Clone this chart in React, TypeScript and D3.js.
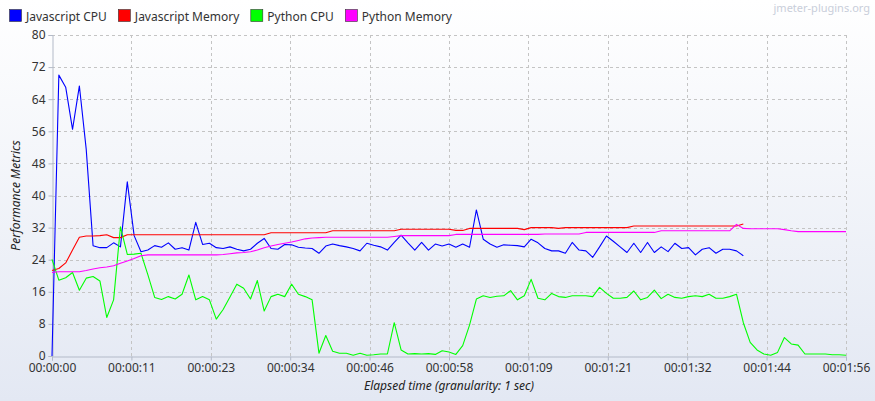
import React, { useRef, useEffect } from "react";
import * as d3 from "d3";

// one sample per second, elapsed seconds = index
const jsCpu = [
  0, 70, 67, 56.5, 67.3, 51.5, 27.5, 27, 27, 28.2,
  27.2, 43.4, 30, 26, 26.4, 27.5, 27.1, 28.2, 26.6, 27,
  26.4, 33.3, 27.8, 28.1, 27, 26.8, 27.2, 26.6, 26.2, 26.6,
  28.1, 29.3, 26.8, 26.6, 27.8, 27.7, 27.1, 26.9, 26.8, 25.6,
  27.4, 27.9, 27.5, 27.2, 26.8, 26.2, 28.1, 27.6, 27.2, 26.4,
  28.3, 30.1, 28.2, 26.4, 28.3, 26.4, 27.9, 27.4, 27.9, 27.1,
  27.9, 27.1, 36.4, 29.1, 27.9, 27.1, 27.7, 27.6, 27.5, 27.2,
  29.1, 28.2, 26.8, 26.2, 26.2, 25.6, 28.3, 26.4, 26.2, 24.6,
  27.2, 29.9, 28.6, 27.2, 25.8, 28.1, 25.8, 28.3, 25.8, 27.2,
  26, 28.1, 26.8, 27, 25.2, 26.6, 27, 25.6, 26.6, 26.6,
  26.2, 25,
];

const jsMemory = [
  21.3, 21.8, 23.2, 26.4, 29.6, 29.9, 29.9, 30, 30.2, 29.5,
  29.5, 30.2, 30.2, 30.2, 30.2, 30.2, 30.2, 30.2, 30.2, 30.2,
  30.2, 30.2, 30.2, 30.2, 30.2, 30.2, 30.2, 30.2, 30.2, 30.2,
  30.2, 30.2, 30.7, 30.7, 30.7, 30.7, 30.7, 30.7, 30.7, 30.7,
  30.7, 31.2, 31.2, 31.2, 31.2, 31.2, 31.2, 31.2, 31.2, 31.2,
  31.2, 31.6, 31.6, 31.6, 31.6, 31.6, 31.6, 31.6, 31.6, 31.3,
  31.3, 31.8, 31.8, 31.8, 31.8, 31.8, 31.8, 31.8, 31.8, 31.5,
  32, 32, 32, 32, 31.8, 32, 32, 32, 32, 32,
  32, 32, 32, 32, 32, 32.4, 32.4, 32.4, 32.4, 32.4,
  32.4, 32.4, 32.4, 32.4, 32.4, 32.4, 32.4, 32.4, 32.4, 32.4,
  32.4, 32.9,
];

const pyCpu = [
  24.1, 18.9, 19.5, 20.8, 16.4, 19.4, 19.8, 18.7, 9.6, 14,
  32.2, 25.3, 25.4, 25.6, 20.3, 14.6, 14.1, 14.8, 14.2, 15.4,
  20.2, 14, 14.8, 14, 9.2, 11.6, 14.7, 17.9, 16.9, 14.2,
  18.8, 11.2, 14.8, 15.4, 14.8, 17.9, 15.4, 14.8, 14, 0.7,
  5.1, 1.2, 0.7, 0.7, 0.2, 0.7, 0.2, 0.3, 0.5, 0.5,
  8.3, 1.5, 0.5, 0.6, 0.5, 0.6, 0.4, 1.3, 1, 0.4,
  2.6, 7.7, 14.2, 15, 14.6, 14.9, 15, 16.3, 14, 15,
  19.1, 14.4, 14, 15.6, 14.8, 14.6, 15, 15, 15, 14.8,
  17.1, 15.6, 14.4, 14.4, 14.6, 16.2, 14, 14.6, 16.4, 14.3,
  15.4, 14.6, 14.4, 14.8, 15, 14.8, 15.4, 14.4, 14.4, 14.8,
  15.4, 8.3, 3.4, 1.5, 0.5, 0.2, 0.9, 4.6, 3, 2.7,
  0.5, 0.5, 0.5, 0.5, 0.3, 0.3, 0.2,
];

const pyMemory = [
  20.8, 21, 21, 21, 21, 21.3, 21.7, 22, 22.2, 22.5,
  23.1, 23.7, 24.3, 25, 25.2, 25.2, 25.2, 25.2, 25.2, 25.2,
  25.2, 25.2, 25.2, 25.2, 25.2, 25.3, 25.5, 25.7, 25.8, 26,
  26.4, 27, 27.4, 27.8, 28.1, 28.4, 28.8, 29.2, 29.4, 29.5,
  29.6, 29.6, 29.6, 29.6, 29.6, 29.6, 29.6, 29.6, 29.6, 29.6,
  29.8, 30, 30, 30, 30, 30, 30, 30, 30, 30.3,
  30.3, 30.3, 30.3, 30.3, 30.3, 30.3, 30.3, 30.3, 30.3, 30.3,
  30.3, 30.3, 30.4, 30.4, 30.4, 30.4, 30.4, 30.4, 30.8, 30.8,
  30.8, 30.8, 30.8, 30.8, 30.8, 30.8, 30.8, 30.8, 30.8, 31.2,
  31.2, 31.2, 31.2, 31.2, 31.2, 31.2, 31.2, 31.2, 31.2, 31.2,
  32.8, 31.8, 31.7, 31.7, 31.7, 31.7, 31.7, 31.5, 31.2, 31,
  31, 31, 31, 31, 31, 31, 31,
];

const seriesNames = ["Javascript CPU", "Javascript Memory", "Python CPU", "Python Memory"];
const seriesColors = ["#0000ff", "#ff0000", "#00ff00", "#ff00ff"];
const yTicks = [0, 8, 16, 24, 32, 40, 48, 56, 64, 72, 80];
const xTicks = [0, 11.6, 23.2, 34.8, 46.4, 58, 69.6, 81.2, 92.8, 104.4, 116];

const W = 875;
const H = 401;
const font = "'Noto Sans', sans-serif";

const fmtTime = (s: number) => {
  const t = Math.floor(s + 1e-6);
  const pad = (n: number) => String(n).padStart(2, "0");
  return `${pad(Math.floor(t / 3600))}:${pad(Math.floor(t / 60) % 60)}:${pad(t % 60)}`;
};

const App = () => {
  const svgRef = useRef<SVGSVGElement>(null);

  useEffect(() => {
    const svg = d3.select(svgRef.current);
    svg.selectAll("*").remove(); // clear

    const left = 52, right = 846, top = 35, bottom = 356;

    const x = d3.scaleLinear().domain([0, 116]).range([left, right]);
    const y = d3.scaleLinear().domain([0, 80]).range([bottom, top]);

    // background gradient
    const grad = svg.append("defs").append("linearGradient")
      .attr("id", "bg").attr("x1", 0).attr("y1", 0).attr("x2", 0).attr("y2", 1);
    grad.append("stop").attr("offset", "0%").attr("stop-color", "#ffffff");
    grad.append("stop").attr("offset", "100%").attr("stop-color", "#e3e8f3");
    svg.append("rect").attr("width", W).attr("height", H).attr("fill", "url(#bg)");

    // grid
    const grid = svg.append("g").attr("stroke", "#c4c4c4").attr("stroke-dasharray", "3,3");
    yTicks.filter((v) => v > 0).forEach((v) => {
      grid.append("line").attr("x1", left).attr("x2", right)
        .attr("y1", Math.round(y(v)) + 0.5).attr("y2", Math.round(y(v)) + 0.5);
    });
    xTicks.filter((v) => v > 0).forEach((v) => {
      grid.append("line").attr("y1", top).attr("y2", bottom)
        .attr("x1", Math.round(x(v)) + 0.5).attr("x2", Math.round(x(v)) + 0.5);
    });

    // axes
    const yAxis = d3.axisLeft(y).tickValues(yTicks).tickSize(4).tickPadding(3)
      .tickFormat((d) => String(d));
    const xAxis = d3.axisBottom(x).tickValues(xTicks).tickSize(4).tickPadding(3)
      .tickFormat((d) => fmtTime(+d));

    const gy = svg.append("g").attr("transform", `translate(${left + 0.5},0)`).call(yAxis);
    const gx = svg.append("g").attr("transform", `translate(0,${bottom + 0.5})`).call(xAxis);
    [gx, gy].forEach((g) => {
      g.select(".domain").attr("stroke", "#b3bac8");
      g.selectAll(".tick line").attr("stroke", "#b3bac8");
      g.selectAll("text").attr("fill", "#333").style("font-family", font).style("font-size", "12px");
    });

    // lines
    const line = d3.line<number>().x((_, i) => x(i)).y((d) => y(d));
    [jsCpu, jsMemory, pyCpu, pyMemory].forEach((data, i) => {
      svg.append("path").datum(data)
        .attr("fill", "none")
        .attr("stroke", seriesColors[i])
        .attr("stroke-width", 1.1)
        .attr("stroke-linejoin", "round")
        .attr("d", line);
    });

    // axis titles
    svg.append("text").text("Performance Metrics")
      .attr("transform", `translate(20,${(top + bottom) / 2}) rotate(-90)`)
      .attr("text-anchor", "middle").attr("fill", "#222")
      .style("font-family", font).style("font-size", "12px").style("font-style", "italic");
    svg.append("text").text("Elapsed time (granularity: 1 sec)")
      .attr("x", (left + right) / 2).attr("y", 390)
      .attr("text-anchor", "middle").attr("fill", "#222")
      .style("font-family", font).style("font-size", "12px").style("font-style", "italic");

    // legend
    const legend = svg.append("g");
    let lx = 9;
    seriesNames.forEach((name, i) => {
      legend.append("rect").attr("x", lx + 0.5).attr("y", 9.5).attr("width", 12).attr("height", 12)
        .attr("fill", seriesColors[i]).attr("stroke", "#333").attr("stroke-width", 0.6);
      const t = legend.append("text").text(name)
        .attr("x", lx + 17).attr("y", 21).attr("fill", "#333")
        .style("font-family", font).style("font-size", "12px");
      const w = (t.node() as SVGTextElement).getComputedTextLength();
      lx += 17 + w + 11;
    });

    // watermark
    svg.append("text").text("jmeter-plugins.org")
      .attr("x", 870).attr("y", 12).attr("text-anchor", "end").attr("fill", "#c9ceda")
      .style("font-family", font).style("font-size", "11px");
  }, []);

  return (
    <div>
      <style>{`body{margin:0}`}</style>
      <svg ref={svgRef} width={W} height={H} style={{ display: "block" }}></svg>
    </div>
  );
};

export default App;
